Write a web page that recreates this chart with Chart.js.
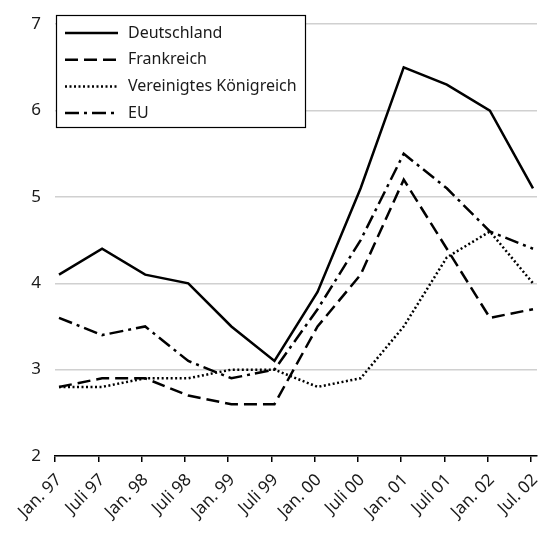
<!DOCTYPE html>
<html><head><meta charset="utf-8">
<script src="https://cdn.jsdelivr.net/npm/chart.js@4/dist/chart.umd.min.js"></script>
<style>html,body{margin:0;padding:0;background:#fff}#wrap{width:543px;height:537px}</style>
</head><body><div id="wrap"><canvas id="c" width="543" height="537"></canvas></div>
<script>
const categories = ['Jan. 97','Juli 97','Jan. 98','Juli 98','Jan. 99','Juli 99','Jan. 00','Juli 00','Jan. 01','Juli 01','Jan. 02','Jul. 02'];
const deutschland = [4.1,4.4,4.1,4.0,3.5,3.1,3.9,5.1,6.5,6.3,6.0,5.1];
const frankreich = [2.8,2.9,2.9,2.7,2.6,2.6,3.5,4.1,5.2,4.4,3.6,3.7];
const vereinigtesKoenigreich = [2.8,2.8,2.9,2.9,3.0,3.0,2.8,2.9,3.5,4.3,4.6,4.0];
const eu = [3.6,3.4,3.5,3.1,2.9,3.0,3.7,4.5,5.5,5.1,4.6,4.4];
const seriesNames = ['Deutschland','Frankreich','Vereinigtes Königreich','EU'];
const yTicks = [2,3,4,5,6,7];

const FONT = '"Noto Sans", "Open Sans", sans-serif';
const toPoints = arr => arr.map((v, i) => ({ x: i, y: v }));

const styles = [
  { borderDash: [] },
  { borderDash: [13, 6] },
  { borderDash: [2, 2.5] },
  { borderDash: [14, 5, 3, 5] }
];
const seriesValues = [deutschland, frankreich, vereinigtesKoenigreich, eu];

const datasets = seriesValues.map((vals, k) => ({
  label: seriesNames[k],
  data: toPoints(vals),
  borderColor: '#000',
  borderWidth: 2.5,
  borderDash: styles[k].borderDash,
  pointRadius: 0,
  fill: false,
  tension: 0,
  borderCapStyle: 'butt',
  borderJoinStyle: 'miter'
}));

// tick marks sit a touch left of the plotted months
const X_MIN = -0.093, X_MAX = 11.093, TICK_STEP = 1.0043;

// framed legend drawn inside the plot, top left
const boxLegend = {
  id: 'boxLegend',
  afterDatasetsDraw(chart) {
    const ctx = chart.ctx;
    const x0 = 56, y0 = 15, w = 249, h = 112;
    ctx.save();
    ctx.fillStyle = '#fff';
    ctx.fillRect(x0, y0, w, h);
    ctx.strokeStyle = '#000';
    ctx.lineWidth = 1.2;
    ctx.strokeRect(x0 + 0.5, y0 + 0.5, w, h);
    chart.data.datasets.forEach((ds, i) => {
      const y = 33 + i * 26.7;
      ctx.beginPath();
      ctx.setLineDash(ds.borderDash);
      ctx.lineWidth = ds.borderWidth;
      ctx.strokeStyle = ds.borderColor;
      ctx.moveTo(65, y);
      ctx.lineTo(118, y);
      ctx.stroke();
      ctx.setLineDash([]);
      ctx.fillStyle = '#1a1a1a';
      ctx.font = '16px ' + FONT;
      ctx.textBaseline = 'middle';
      ctx.textAlign = 'left';
      ctx.fillText(ds.label, 128, y);
    });
    ctx.restore();
  }
};

new Chart(document.getElementById('c'), {
  type: 'line',
  data: { datasets },
  options: {
    responsive: false,
    animation: false,
    devicePixelRatio: 1,
    layout: { padding: { top: 19, right: 6, left: 0, bottom: 0 } },
    plugins: { legend: { display: false }, tooltip: { enabled: false } },
    scales: {
      x: {
        type: 'linear',
        min: X_MIN,
        max: X_MAX,
        afterBuildTicks: s => { s.ticks = categories.map((_, i) => ({ value: X_MIN + i * TICK_STEP })); },
        afterFit: s => { s.height = 81; s.paddingLeft = 0; s.paddingRight = 0; },
        ticks: {
          autoSkip: false,
          minRotation: 45,
          maxRotation: 45,
          color: '#1a1a1a',
          font: { family: FONT, size: 17 },
          padding: 8,
          labelOffset: 4,
          callback: (v, i) => categories[i]
        },
        grid: { display: true, drawOnChartArea: false, drawTicks: true, tickLength: 6, color: '#000', lineWidth: 1.5 },
        border: { display: true, color: '#000', width: 1.5 }
      },
      y: {
        min: 2,
        max: 7,
        afterBuildTicks: s => { s.ticks = yTicks.map(v => ({ value: v })); },
        afterFit: s => { s.width = 55; },
        ticks: { color: '#1a1a1a', font: { family: FONT, size: 17 }, padding: 14 },
        grid: { color: '#d0d0d0', lineWidth: 1.5, drawTicks: false },
        border: { display: false }
      }
    }
  },
  plugins: [boxLegend]
});
</script></body></html>
